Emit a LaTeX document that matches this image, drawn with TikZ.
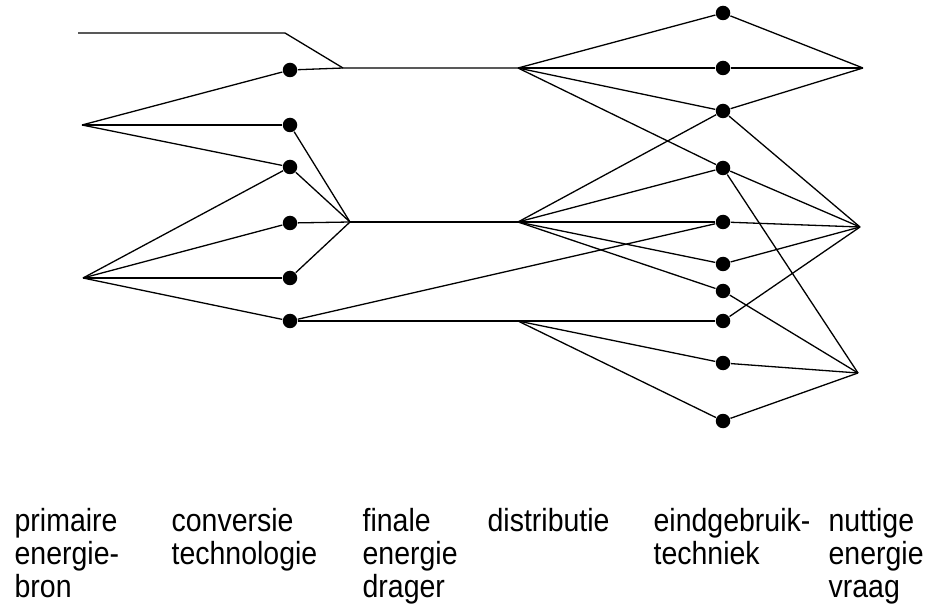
\documentclass[tikz,border=0pt]{standalone}
\usepackage{fontspec}
\setmainfont{Liberation Sans}[FakeStretch=0.89]
\begin{document}
\begin{tikzpicture}[x=1pt,y=-1pt,
  line width=1.3pt,
  dot/.style={circle,fill=black,draw=none,inner sep=0pt,minimum size=14.5pt},
  lab/.style={anchor=base west,inner sep=0pt,font=\fontsize{32}{33}\selectfont}]
\useasboundingbox (0,0) rectangle (929,612);
% junction points
\coordinate (s0) at (78,33);
\coordinate (s1) at (285,33);
\coordinate (p1) at (82,125);
\coordinate (p2) at (83,278);
\coordinate (f1) at (343,68);
\coordinate (f2) at (350,222);
\coordinate (d1) at (518,68);
\coordinate (d2) at (518,222);
\coordinate (d3) at (518,321);
\coordinate (u1) at (863,68);
\coordinate (u2) at (860,227);
\coordinate (u3) at (858,373);
% conversion nodes
\node[dot] (c1) at (290,70) {};
\node[dot] (c2) at (290,125) {};
\node[dot] (c3) at (290,167) {};
\node[dot] (c4) at (290,223) {};
\node[dot] (c5) at (290,278) {};
\node[dot] (c6) at (290,321) {};
% end-use nodes
\node[dot] (e1) at (723,13) {};
\node[dot] (e2) at (723,68) {};
\node[dot] (e3) at (723,111) {};
\node[dot] (e4) at (723,168) {};
\node[dot] (e5) at (723,222) {};
\node[dot] (e6) at (723,264) {};
\node[dot] (e7) at (723,291) {};
\node[dot] (e8) at (723,321) {};
\node[dot] (e9) at (723,363) {};
\node[dot] (e10) at (723,421) {};
% connectors
\draw (s0) -- (s1) -- (f1);
\draw (p1) -- (c1); \draw (p1) -- (c2); \draw (p1) -- (c3);
\draw (p2) -- (c3); \draw (p2) -- (c4); \draw (p2) -- (c5); \draw (p2) -- (c6);
\draw (c1) -- (f1) -- (d1);
\draw (c2) -- (f2); \draw (c3) -- (f2); \draw (c4) -- (f2); \draw (c5) -- (f2);
\draw (f2) -- (d2);
\draw (c6) -- (d3);
\draw (c6) -- (e5);
\draw (d1) -- (e1); \draw (d1) -- (e2); \draw (d1) -- (e3); \draw (d1) -- (e4);
\draw (d2) -- (e3); \draw (d2) -- (e4); \draw (d2) -- (e5); \draw (d2) -- (e6); \draw (d2) -- (e7);
\draw (d3) -- (e8); \draw (d3) -- (e9); \draw (d3) -- (e10);
\draw (e1) -- (u1); \draw (e2) -- (u1); \draw (e3) -- (u1);
\draw (e3) -- (u2); \draw (e4) -- (u2); \draw (e5) -- (u2); \draw (e6) -- (u2); \draw (e8) -- (u2);
\draw (e4) -- (u3); \draw (e7) -- (u3); \draw (e9) -- (u3); \draw (e10) -- (u3);
% labels
\node[lab] (l1a) at (14,531) {primaire};
\node[lab] (l1b) at (14,564) {energie-};
\node[lab] (l1c) at (14,597) {bron};
\node[lab] (l2a) at (171,531) {conversie};
\node[lab] (l2b) at (171,564) {technologie};
\node[lab] (l3a) at (362,531) {finale};
\node[lab] (l3b) at (362,564) {energie};
\node[lab] (l3c) at (362,597) {drager};
\node[lab] (l4a) at (487,531) {distributie};
\node[lab] (l5a) at (653,531) {eindgebruik-};
\node[lab] (l5b) at (653,564) {techniek};
\node[lab] (l6a) at (828,531) {nuttige};
\node[lab] (l6b) at (828,564) {energie};
\node[lab] (l6c) at (828,597) {vraag};
\end{tikzpicture}
\end{document}
